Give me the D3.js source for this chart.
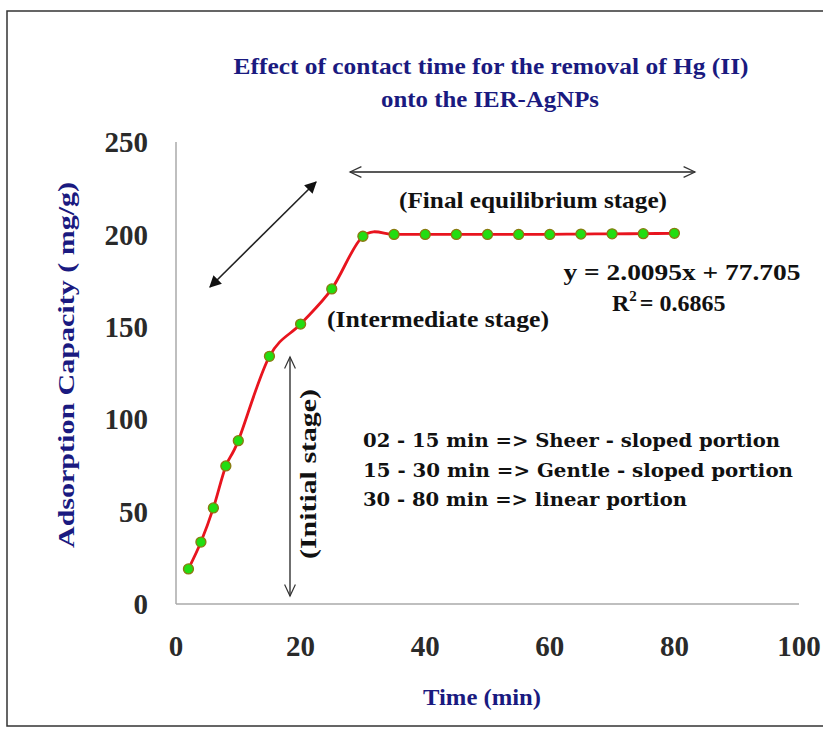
<!DOCTYPE html>
<meta charset="utf-8">
<script src="https://d3js.org/d3.v7.min.js"></script>
<style>
  body { margin: 0; background: #fff; }
</style>
<div id="chart"></div>
<script>

// data
var times = [2, 4, 6, 8, 10, 15, 20, 25, 30, 35, 40, 45, 50, 55, 60, 65, 70, 75, 80];
var capacity = [19, 33.5, 52, 74.7, 88.4, 134, 151.5, 170.5, 199, 200, 200, 200, 200, 200, 200, 200.2, 200.3, 200.4, 200.6];
var xTicks = [0, 20, 40, 60, 80, 100];
var yTicks = [0, 50, 100, 150, 200, 250];
var notes = ["02 - 15 min => Sheer - sloped portion",
             "15 - 30 min => Gentle - sloped portion",
             "30 - 80 min => linear portion"];

var W = 823, H = 729;
var navy = "#1a1a80";
var serif = "'Liberation Serif', 'Times New Roman', Tinos, 'Nimbus Roman', serif";

var svg = d3.select("#chart").append("svg")
  .attr("width", W).attr("height", H)
  .attr("font-family", serif).attr("font-weight", "bold");

// outer frame
svg.append("rect")
  .attr("x", 7).attr("y", 11).attr("width", 830).attr("height", 715)
  .attr("fill", "none").attr("stroke", "#333").attr("stroke-width", 1.5);

// scales
var x = d3.scaleLinear().domain([0, 100]).range([176, 799]);
var y = d3.scaleLinear().domain([0, 250]).range([604, 142]);

// axis lines
svg.append("line").attr("x1", x(0)).attr("x2", x(0)).attr("y1", y(250)).attr("y2", y(0))
  .attr("stroke", "#aaa").attr("stroke-width", 1.5);
svg.append("line").attr("x1", x(0)).attr("x2", x(100)).attr("y1", y(0)).attr("y2", y(0))
  .attr("stroke", "#aaa").attr("stroke-width", 1.5);

// tick labels
svg.selectAll(".yt").data(yTicks).enter().append("text")
  .attr("x", 148).attr("y", function(d) { return y(d); })
  .attr("dy", "0.35em").attr("text-anchor", "end")
  .attr("font-size", 29).attr("fill", "#2a2a2a")
  .text(function(d) { return d; });

svg.selectAll(".xt").data(xTicks).enter().append("text")
  .attr("x", function(d) { return x(d); }).attr("y", 656)
  .attr("text-anchor", "middle")
  .attr("font-size", 29).attr("fill", "#2a2a2a")
  .text(function(d) { return d; });

// titles
svg.append("text").attr("x", 491).attr("y", 74).attr("text-anchor", "middle")
  .attr("font-size", 24).attr("fill", navy)
  .attr("textLength", 515).attr("lengthAdjust", "spacingAndGlyphs")
  .text("Effect of contact time for the removal of Hg (II)");
svg.append("text").attr("x", 490).attr("y", 107).attr("text-anchor", "middle")
  .attr("font-size", 24).attr("fill", navy)
  .attr("textLength", 218).attr("lengthAdjust", "spacingAndGlyphs")
  .text("onto the IER-AgNPs");

svg.append("text").attr("x", 482).attr("y", 705).attr("text-anchor", "middle")
  .attr("font-size", 24).attr("fill", navy)
  .attr("textLength", 118).attr("lengthAdjust", "spacingAndGlyphs")
  .text("Time (min)");

svg.append("text")
  .attr("transform", "translate(74,365) rotate(-90)")
  .attr("text-anchor", "middle")
  .attr("font-size", 24).attr("fill", navy)
  .attr("textLength", 366).attr("lengthAdjust", "spacingAndGlyphs")
  .text("Adsorption Capacity ( mg/g)");

// markers for arrows
var defs = svg.append("defs");
defs.append("marker").attr("id", "solid")
  .attr("viewBox", "0 0 10 10").attr("refX", 9).attr("refY", 5)
  .attr("markerWidth", 12).attr("markerHeight", 12).attr("markerUnits", "userSpaceOnUse")
  .attr("orient", "auto-start-reverse")
  .append("path").attr("d", "M0,0 L10,5 L0,10 z").attr("fill", "#111");
defs.append("marker").attr("id", "open")
  .attr("viewBox", "0 0 10 10").attr("refX", 9.5).attr("refY", 5)
  .attr("markerWidth", 14).attr("markerHeight", 12).attr("markerUnits", "userSpaceOnUse")
  .attr("orient", "auto-start-reverse")
  .append("path").attr("d", "M0,0.5 L9.5,5 L0,9.5").attr("fill", "none")
  .attr("stroke", "#333").attr("stroke-width", 1);

function arrow(x1, y1, x2, y2, m, sw) {
  svg.append("line").attr("x1", x1).attr("y1", y1).attr("x2", x2).attr("y2", y2)
    .attr("stroke", "#222").attr("stroke-width", sw)
    .attr("marker-start", "url(#" + m + ")").attr("marker-end", "url(#" + m + ")");
}
arrow(210, 287, 316, 182, "solid", 1.6);
arrow(350, 172, 695, 172, "open", 1.6);
arrow(290, 357, 290, 596, "open", 1.3);

// stage labels
svg.append("text").attr("x", 533).attr("y", 208).attr("text-anchor", "middle")
  .attr("font-size", 23).attr("fill", "#111")
  .attr("textLength", 268).attr("lengthAdjust", "spacingAndGlyphs")
  .text("(Final equilibrium stage)");
svg.append("text").attr("x", 438).attr("y", 327).attr("text-anchor", "middle")
  .attr("font-size", 23).attr("fill", "#111")
  .attr("textLength", 222).attr("lengthAdjust", "spacingAndGlyphs")
  .text("(Intermediate stage)");
svg.append("text")
  .attr("transform", "translate(316,474) rotate(-90)")
  .attr("text-anchor", "middle")
  .attr("font-size", 23).attr("fill", "#111")
  .attr("textLength", 170).attr("lengthAdjust", "spacingAndGlyphs")
  .text("(Initial stage)");

// trend equation
svg.append("text").attr("x", 682).attr("y", 280).attr("text-anchor", "middle")
  .attr("font-size", 24).attr("fill", "#111")
  .attr("textLength", 237).attr("lengthAdjust", "spacingAndGlyphs")
  .text("y = 2.0095x + 77.705");
var r2 = svg.append("text").attr("x", 612).attr("y", 311)
  .attr("font-size", 24).attr("fill", "#111");
r2.append("tspan").text("R");
r2.append("tspan").attr("dy", -10).attr("font-size", 15).text("2");
r2.append("tspan").attr("dy", 10).attr("dx", 3).text("= 0.6865");

// notes
var noteLen = [417, 430, 324];
svg.selectAll(".note").data(notes).enter().append("text")
  .attr("x", 363).attr("y", function(d, i) { return 447 + i * 29.5; })
  .attr("font-family", "'DejaVu Serif', serif")
  .attr("font-size", 18).attr("fill", "#111")
  .attr("textLength", function(d, i) { return noteLen[i]; })
  .attr("lengthAdjust", "spacingAndGlyphs")
  .text(function(d) { return d; });

// data line
var pts = times.map(function(t, i) { return [t, capacity[i]]; });
var line = d3.line()
  .x(function(d) { return x(d[0]); })
  .y(function(d) { return y(d[1]); })
  .curve(d3.curveCardinal.tension(0));

svg.append("path").datum(pts)
  .attr("d", line)
  .attr("fill", "none").attr("stroke", "#e8141e").attr("stroke-width", 2.8);

svg.selectAll(".pt").data(pts).enter().append("circle")
  .attr("cx", function(d) { return x(d[0]); })
  .attr("cy", function(d) { return y(d[1]); })
  .attr("r", 5)
  .attr("fill", "#22dd11").attr("stroke", "#8a7a10").attr("stroke-width", 1.3);

</script>
